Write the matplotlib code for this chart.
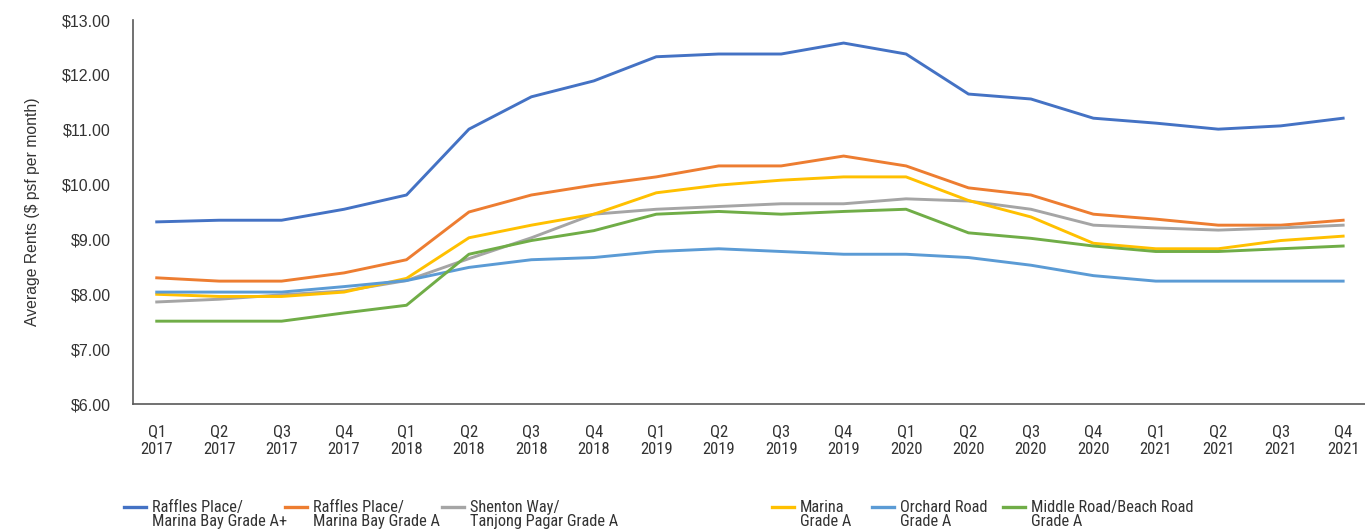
import matplotlib
matplotlib.use("Agg")
import matplotlib.pyplot as plt
from matplotlib.lines import Line2D
from matplotlib.ticker import FuncFormatter
from matplotlib import font_manager

plt.rcParams['font.family'] = ['Liberation Sans', 'DejaVu Sans']
installed = {f.name for f in font_manager.fontManager.ttflist}
narrow = [n for n in ('Liberation Sans Narrow', 'Roboto Condensed', 'Archivo Narrow',
                      'Liberation Sans') if n in installed]

quarters = ["Q1\n2017", "Q2\n2017", "Q3\n2017", "Q4\n2017",
            "Q1\n2018", "Q2\n2018", "Q3\n2018", "Q4\n2018",
            "Q1\n2019", "Q2\n2019", "Q3\n2019", "Q4\n2019",
            "Q1\n2020", "Q2\n2020", "Q3\n2020", "Q4\n2020",
            "Q1\n2021", "Q2\n2021", "Q3\n2021", "Q4\n2021"]

raffles_a_plus = [9.32, 9.35, 9.35, 9.55, 9.81, 11.01, 11.60, 11.89, 12.33, 12.38,
                  12.38, 12.58, 12.38, 11.65, 11.56, 11.21, 11.12, 11.01, 11.07, 11.21]
raffles_a = [8.30, 8.24, 8.24, 8.39, 8.63, 9.50, 9.81, 9.99, 10.14, 10.34,
             10.34, 10.52, 10.34, 9.94, 9.81, 9.46, 9.37, 9.26, 9.26, 9.35]
shenton_a = [7.86, 7.91, 7.99, 8.06, 8.25, 8.65, 9.03, 9.46, 9.55, 9.60,
             9.65, 9.65, 9.74, 9.70, 9.55, 9.26, 9.21, 9.17, 9.21, 9.26]
marina_a = [8.00, 7.96, 7.96, 8.04, 8.29, 9.03, 9.26, 9.46, 9.85, 9.99,
            10.08, 10.14, 10.14, 9.71, 9.41, 8.93, 8.83, 8.83, 8.98, 9.06]
orchard_a = [8.04, 8.04, 8.04, 8.14, 8.25, 8.49, 8.63, 8.67, 8.78, 8.83,
             8.78, 8.73, 8.73, 8.67, 8.53, 8.34, 8.24, 8.24, 8.24, 8.24]
middle_beach_a = [7.51, 7.51, 7.51, 7.66, 7.80, 8.73, 8.98, 9.16, 9.46, 9.51,
                  9.46, 9.51, 9.55, 9.12, 9.02, 8.88, 8.78, 8.78, 8.83, 8.88]

series = [
    ("Raffles Place/\nMarina Bay Grade A+", raffles_a_plus, "#4472C4"),
    ("Raffles Place/\nMarina Bay Grade A", raffles_a, "#ED7D31"),
    ("Shenton Way/\nTanjong Pagar Grade A", shenton_a, "#A5A5A5"),
    ("Marina\nGrade A", marina_a, "#FFC000"),
    ("Orchard Road\nGrade A", orchard_a, "#5B9BD5"),
    ("Middle Road/Beach Road\nGrade A", middle_beach_a, "#70AD47"),
]

text_color = "#333333"
W, H = 1365, 530
fig = plt.figure(figsize=(W / 100, H / 100), dpi=100)
ax = fig.add_axes([133 / W, (H - 404) / H, (W - 133) / W, (404 - 20) / H])

x = list(range(len(quarters)))
for label, vals, color in series:
    ax.plot(x, vals, color=color, lw=2.1, solid_joinstyle="round")

ax.set_xlim(-0.38, 19.35)
ax.set_ylim(6, 13)
ax.set_yticks(range(6, 14))
ax.yaxis.set_major_formatter(FuncFormatter(lambda v, p: f"${v:.2f}"))
ax.set_xticks(x)
ax.set_xticklabels(quarters, linespacing=1.25, family=narrow, fontsize=12)

for side in ("top", "right"):
    ax.spines[side].set_visible(False)
for side in ("left", "bottom"):
    ax.spines[side].set_color("#595959")
    ax.spines[side].set_linewidth(1.2)

ax.tick_params(axis="y", length=0, pad=16, labelsize=11.5, labelcolor=text_color)
ax.tick_params(axis="x", length=0, pad=14.5, labelcolor=text_color)
ax.set_ylabel("Average Rents ($ psf per month)", fontsize=11.3, color=text_color, labelpad=16)

# legend drawn along the bottom, handle aligned with the first text line
legend_x = [124, 285, 442, 772, 872, 1003]
for (label, vals, color), lx in zip(series, legend_x):
    yline = 1 - 507 / H
    fig.add_artist(Line2D([lx / W, (lx + 22) / W], [yline, yline],
                          transform=fig.transFigure, color=color, lw=2.4))
    fig.text((lx + 28) / W, 1 - 500 / H, label, ha="left", va="top",
             fontsize=11.8, color=text_color, linespacing=0.95, family=narrow)

fig.savefig("out.png", dpi=100)
